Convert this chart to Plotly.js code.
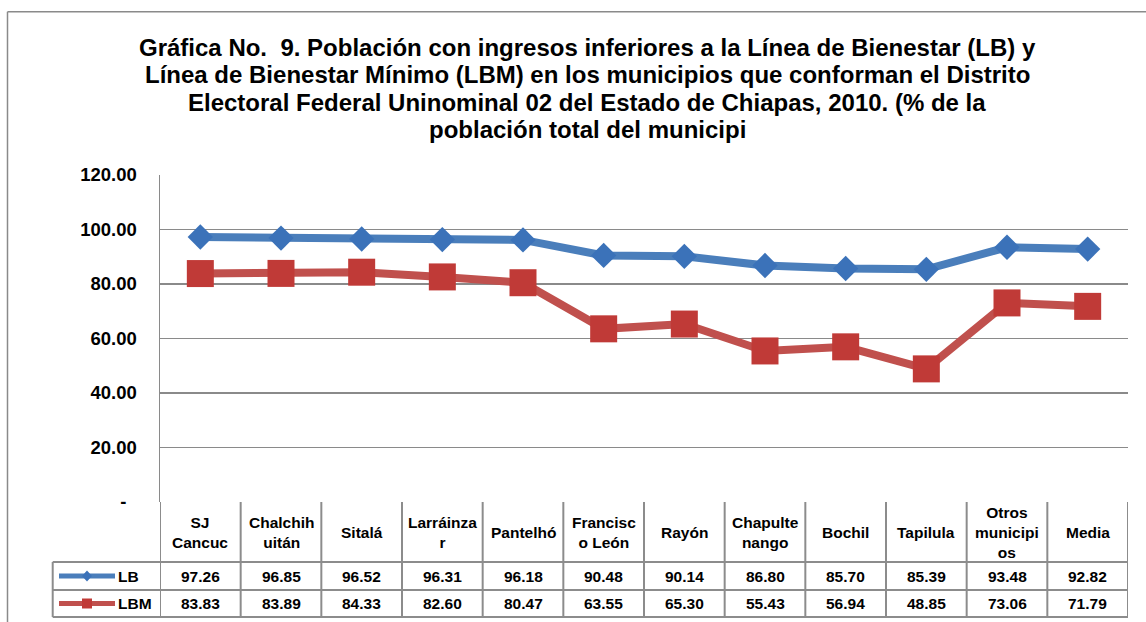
<!DOCTYPE html>
<html>
<head>
<meta charset="utf-8">
<script src="https://cdn.plot.ly/plotly-3.0.1.min.js"></script>
<style>html,body{margin:0;padding:0;background:#fff;}#chart{width:1146px;height:622px;}</style>
</head>
<body>
<div id="chart"></div>
<script>
// ---- data ----
var categories = ["SJ Cancuc", "Chalchihuitán", "Sitalá", "Larráinzar", "Pantelhó", "Francisco León", "Rayón", "Chapultenango", "Bochil", "Tapilula", "Otros municipios", "Media"];
var headerLabels = ["SJ<br>Cancuc", "Chalchih<br>uitán", "Sitalá", "Larráinza<br>r", "Pantelhó", "Francisc<br>o León", "Rayón", "Chapulte<br>nango", "Bochil", "Tapilula", "Otros<br>municipi<br>os", "Media"];
var lbValues = [97.26, 96.85, 96.52, 96.31, 96.18, 90.48, 90.14, 86.80, 85.70, 85.39, 93.48, 92.82];
var lbmValues = [83.83, 83.89, 84.33, 82.60, 80.47, 63.55, 65.30, 55.43, 56.94, 48.85, 73.06, 71.79];
var seriesNames = ["LB", "LBM"];
var yTickVals = [0, 20, 40, 60, 80, 100, 120];
var yTickText = ["-\u00a0\u00a0", "20.00", "40.00", "60.00", "80.00", "100.00", "120.00"];
var titleLines = [
  "Gráfica No.  9. Población con ingresos inferiores a la Línea de Bienestar (LB) y",
  "Línea de Bienestar Mínimo (LBM) en los municipios que conforman el Distrito",
  "Electoral Federal Uninominal 02 del Estado de Chiapas, 2010. (% de la",
  "población total del municipi"
];

// ---- layout constants (pixels) ----
var W = 1146, H = 622;
var mL = 160, mR = 18, mT = 175, mB = 120;
var plotH = H - mT - mB; // 327
var plotW = W - mL - mR; // 968
function py(Y) { return (H - mB - Y) / plotH; }
function px(X) { return (X - mL) / plotW; }

var FONT = "Liberation Sans, Arial, sans-serif";
var gridCol = "#8a8a8a";
var tblCol = "#8c8c8c";
var colLB = "#4a7ebb", colLBmk = "#3b72b9";
var colLBM = "#c0504d", colLBMmk = "#c03a37";

var yHeadBot = py(562), yLBBot = py(590), yLBMBot = py(617);
var yHeadMid = py(532.5), rowMidPx = [576, 603.5];
var xLegLeft = px(52.7);

var traces = [
  {
    x: categories, y: lbValues, name: seriesNames[0], type: "scatter", mode: "lines+markers",
    line: {color: colLB, width: 8},
    marker: {symbol: "diamond", size: 19.5, color: colLBmk},
    cliponaxis: false, showlegend: false
  },
  {
    x: categories, y: lbmValues, name: seriesNames[1], type: "scatter", mode: "lines+markers",
    line: {color: colLBM, width: 8},
    marker: {symbol: "square", size: 27, color: colLBMmk},
    cliponaxis: false, showlegend: false
  }
];

var shapes = [];
function hline(y, x0, x1, xref, col, w) {
  shapes.push({type: "line", xref: xref || "paper", yref: "paper", x0: x0, x1: x1, y0: y, y1: y, line: {color: col || tblCol, width: w || 2}});
}
function vline(x, y0, y1, xref, col, w) {
  shapes.push({type: "line", xref: xref || "paper", yref: "paper", x0: x, x1: x, y0: y0, y1: y1, line: {color: col || tblCol, width: w || 2}});
}
// table column lines
for (var i = 0; i <= categories.length; i++) {
  vline(i - 0.5, 0, yLBMBot, "x");
}
// table row lines
hline(yHeadBot, xLegLeft, 1);
hline(yLBBot, xLegLeft, 1);
hline(yLBMBot, xLegLeft, 1);
vline(xLegLeft, yHeadBot, yLBMBot);
// outer chart border
vline(px(7.5), py(11.7), -0.5, "paper", "#8a8a8a", 1.5);
hline(py(11.7), px(7.5), 1.2, "paper", "#8a8a8a", 1.5);

// legend keys inside the table (line + small marker)
function pathPx(pts) {
  return pts.map(function (p, k) { return (k ? "L" : "M") + px(p[0]) + "," + py(p[1]); }).join(" ") + " Z";
}
var keyCols = [[colLB, colLBmk, "diamond"], [colLBM, colLBMmk, "square"]];
for (var r = 0; r < 2; r++) {
  var cy = rowMidPx[r];
  shapes.push({type: "line", xref: "paper", yref: "paper", x0: px(59), x1: px(115), y0: py(cy), y1: py(cy), line: {color: keyCols[r][0], width: 5}});
  var d = keyCols[r][2] === "diamond"
    ? pathPx([[87, cy - 5.5], [92, cy], [87, cy + 5.5], [82, cy]])
    : pathPx([[82, cy - 5], [92, cy - 5], [92, cy + 5], [82, cy + 5]]);
  shapes.push({type: "path", xref: "paper", yref: "paper", path: d, fillcolor: keyCols[r][1], line: {width: 0}});
}

var annotations = [];
var tfont = {family: FONT, size: 15.5, color: "#000", weight: "bold"};
for (var j = 0; j < categories.length; j++) {
  annotations.push({xref: "x", yref: "paper", x: categories[j], y: yHeadMid, text: headerLabels[j], showarrow: false, font: tfont, align: "center", xanchor: "center", yanchor: "middle"});
  annotations.push({xref: "x", yref: "paper", x: categories[j], y: py(rowMidPx[0]), text: lbValues[j].toFixed(2), showarrow: false, font: tfont, xanchor: "center", yanchor: "middle"});
  annotations.push({xref: "x", yref: "paper", x: categories[j], y: py(rowMidPx[1]), text: lbmValues[j].toFixed(2), showarrow: false, font: tfont, xanchor: "center", yanchor: "middle"});
}
for (var s = 0; s < seriesNames.length; s++) {
  annotations.push({xref: "paper", yref: "paper", x: px(116), y: py(rowMidPx[s]), text: seriesNames[s], showarrow: false, font: tfont, xanchor: "left", yanchor: "middle"});
}
// title lines
var titleCentersPx = [47, 74.5, 102, 129.5];
for (var t = 0; t < titleLines.length; t++) {
  annotations.push({xref: "paper", yref: "paper", x: px(587), y: py(titleCentersPx[t]), text: titleLines[t], showarrow: false,
    font: {family: FONT, size: 24, color: "#000", weight: "bold"}, xanchor: "center", yanchor: "middle"});
}

var layout = {
  width: W, height: H,
  margin: {l: mL, r: mR, t: mT, b: mB, pad: 0, autoexpand: false},
  paper_bgcolor: "#fff", plot_bgcolor: "#fff",
  font: {family: FONT, color: "#000"},
  xaxis: {
    type: "category", categoryorder: "array", categoryarray: categories,
    range: [-0.5, categories.length - 0.5],
    showticklabels: false, showgrid: false, zeroline: false, showline: false, ticks: ""
  },
  yaxis: {
    range: [0, 120], tickvals: yTickVals, ticktext: yTickText,
    tickfont: {family: FONT, size: 18.5, color: "#000", weight: "bold"},
    showgrid: true, gridcolor: gridCol, gridwidth: 1.5,
    zeroline: false, showline: true, linecolor: gridCol, linewidth: 1.5,
    ticks: "", ticklabelstandoff: 18
  },
  showlegend: false,
  shapes: shapes,
  annotations: annotations
};

Plotly.newPlot("chart", traces, layout, {displayModeBar: false, staticPlot: true});
</script>
</body>
</html>
